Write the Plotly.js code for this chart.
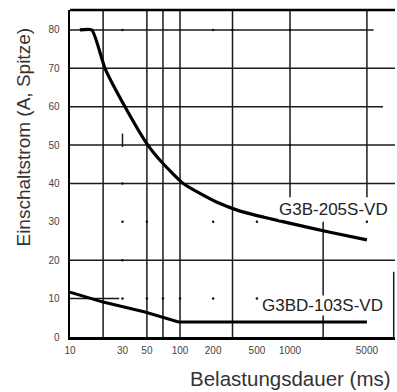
<!DOCTYPE html>
<html>
<head>
<meta charset="utf-8">
<script src="https://cdn.plot.ly/plotly-3.0.1.min.js"></script>
<style>html,body{margin:0;padding:0;background:#fff;}#chart{width:397px;height:392px;}</style>
</head>
<body>
<div id="chart"></div>
<script>
// ---- data ----
var seriesA_name = "G3B-205S-VD";
var seriesA_x = [12.3, 15.8, 20.8, 31.6, 51, 70, 107, 152, 217, 351, 580, 1158, 2311, 5000];
var seriesA_y = [80, 80, 70, 60, 50, 45.2, 40, 37.4, 35.1, 32.8, 31.2, 29.2, 27.3, 25.3];

var seriesB_name = "G3BD-103S-VD";
var seriesB_x = [10, 20, 48, 97, 5000];
var seriesB_y = [11.7, 9.1, 6.5, 3.9, 3.9];

var xTickVals = [10, 30, 50, 100, 200, 500, 1000, 5000];
var xTickText = ["10", "30", "50", "100", "200", "500", "1000", "5000"];
var yTickVals = [0, 10, 20, 30, 40, 50, 60, 70, 80];
var yTickText = ["0", "10", "20", "30", "40", "50", "60", "70", "80"];

// gridlines (value, start, end)
var vGridX     = [20, 50, 70, 100, 300, 1000, 5000, 2000, 30];
var vGridFrom  = [0,  0,  0,  0,   0,   36.4, 36.4, 0,    49.5];
var vGridTo    = [85.2, 85.2, 85.2, 85.2, 85.2, 85.2, 85.2, 30, 53];
var hGridY     = [10, 20, 40, 50, 60, 70, 80];
var hGridFrom  = [10, 10, 10, 10, 10, 10, 10];
var hGridTo    = [28, 9000, 9000, 9000, 7000, 9000, 5750];

// stray grid dots
var dotX = [30, 50, 30, 50, 70, 100, 200, 500, 200, 500, 5000, 30, 200, 300, 1000, 30, 1000, 300, 30];
var dotY = [30, 30, 10, 10, 10, 10, 10, 10, 30, 30, 30, 80, 80, 80, 80, 40, 50, 40, 20];

var xTitle = "Belastungsdauer (ms)";
var yTitle = "Einschaltstrom (A, Spitze)";

// ---- build ----
var shapes = [];
var gridStyle = {color: "#1a1a1a", width: 1.5};
for (var i = 0; i < vGridX.length; i++) {
  shapes.push({type: "line", xref: "x", yref: "y", x0: vGridX[i], x1: vGridX[i], y0: vGridFrom[i], y1: vGridTo[i], line: gridStyle, layer: "below"});
}
for (var j = 0; j < hGridY.length; j++) {
  shapes.push({type: "line", xref: "x", yref: "y", x0: hGridFrom[j], x1: hGridTo[j], y0: hGridY[j], y1: hGridY[j], line: gridStyle, layer: "below"});
}
// top frame and partial right frame
shapes.push({type: "line", xref: "paper", yref: "paper", x0: 0, x1: 1, y0: 1, y1: 1, line: {color: "#000", width: 2.5}});
shapes.push({type: "line", xref: "paper", yref: "y", x0: 0.996, x1: 0.996, y0: 0, y1: 17, line: {color: "#1a1a1a", width: 1.5}});

var traces = [
  {x: seriesA_x, y: seriesA_y, mode: "lines", name: seriesA_name, line: {color: "#000", width: 3.2, shape: "spline", smoothing: 0.5}, hoverinfo: "skip"},
  {x: seriesB_x, y: seriesB_y, mode: "lines", name: seriesB_name, line: {color: "#000", width: 3}, hoverinfo: "skip"},
  {x: dotX, y: dotY, mode: "markers", marker: {color: "#111", size: 2.5}, hoverinfo: "skip"}
];

var fam = "Liberation Sans, Arial, sans-serif";
var tickFont = {family: fam, size: 10, color: "#444"};
var layout = {
  width: 397, height: 392,
  margin: {l: 70, r: 2, t: 10, b: 55},
  paper_bgcolor: "#fff", plot_bgcolor: "#fff",
  showlegend: false,
  xaxis: {
    type: "log", range: [1, Math.log10(9000)],
    tickvals: xTickVals, ticktext: xTickText, tickfont: tickFont,
    ticks: "outside", ticklen: 2, tickcolor: "rgba(0,0,0,0)",
    showgrid: false, zeroline: false,
    showline: true, linecolor: "#000", linewidth: 2.5
  },
  yaxis: {
    range: [0, 85.2],
    tickvals: yTickVals, ticktext: yTickText, tickfont: tickFont,
    ticks: "outside", ticklen: 6, tickcolor: "rgba(0,0,0,0)",
    showgrid: false, zeroline: false,
    showline: true, linecolor: "#000", linewidth: 2.5
  },
  shapes: shapes,
  annotations: [
    {x: Math.log10(7940), y: 33.2, xref: "x", yref: "y", text: seriesA_name, showarrow: false, xanchor: "right", yanchor: "middle", font: {family: fam, size: 17, color: "#222"}, bgcolor: "#fff", borderpad: 0},
    {x: Math.log10(7160), y: 8.3, xref: "x", yref: "y", text: seriesB_name, showarrow: false, xanchor: "right", yanchor: "middle", font: {family: fam, size: 17, color: "#222"}, bgcolor: "#fff", borderpad: 0},
    {x: 0.994, y: 0, xref: "paper", yref: "paper", yshift: -41, text: xTitle, showarrow: false, xanchor: "right", yanchor: "middle", font: {family: fam, size: 20.5, color: "#333"}},
    {x: 0, y: 0.61, xref: "paper", yref: "paper", xshift: -46, text: yTitle, textangle: -90, showarrow: false, xanchor: "center", yanchor: "middle", font: {family: fam, size: 19, color: "#333"}}
  ]
};

Plotly.newPlot("chart", traces, layout, {staticPlot: true, displayModeBar: false});
</script>
</body>
</html>
